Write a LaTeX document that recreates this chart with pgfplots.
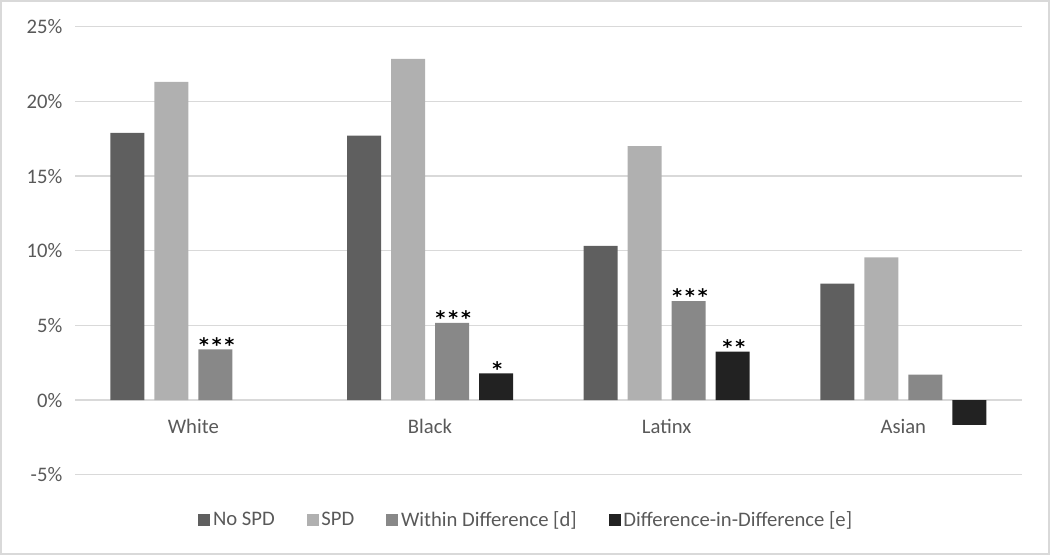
\documentclass[border=0pt]{standalone}
\usepackage{fontspec}
\setmainfont{Carlito}
\newfontfamily\starfont[LetterSpace=16]{DejaVu Sans}
\usepackage{pgfplots}
\pgfplotsset{compat=1.18}
\definecolor{cNo}{HTML}{5F5F5F}
\definecolor{cSPD}{HTML}{B0B0B0}
\definecolor{cWD}{HTML}{888888}
\definecolor{cDiD}{HTML}{222222}
\definecolor{gridc}{HTML}{D9D9D9}
\definecolor{txt}{HTML}{595959}
\begin{document}
\begin{tikzpicture}
\useasboundingbox (0,0) rectangle (787.5pt,416.25pt);
\draw[gridc, line width=1.2pt] (0.6pt,0.6pt) rectangle (786.9pt,415.65pt);
\begin{axis}[
  at={(56.25pt,60.2pt)}, anchor=south west,
  scale only axis, width=710pt, height=336pt,
  ymin=-5, ymax=25, ytick={-5,0,5,10,15,20,25},
  xmin=-0.5, xmax=3.5, xtick={0,1,2,3}, xticklabels={White,Black,Latinx,Asian},
  axis x line*=middle, axis y line*=left,
  y axis line style={draw=none}, x axis line style={gridc, line width=1pt},
  ymajorgrids, grid style={gridc, line width=1pt},
  major tick length=0pt,
  tick label style={font=\fontsize{15.5}{18}\selectfont, text=txt},
  xticklabel style={yshift=-11pt},
  yticklabel style={xshift=-6pt},
  /pgf/number format/assume math mode=true,
  yticklabel={\pgfmathprintnumber{\tick}\%},
  ybar=7.5pt, bar width=25.5pt,
  clip=false,
  every node near coord/.append style={font=\starfont\bfseries\fontsize{14}{14}\selectfont, text=black, inner sep=0pt, yshift=-1.5pt, xshift=1pt},
  legend style={at={(0.477,-0.101)}, anchor=center, draw=none, fill=none,
    legend columns=4, font=\fontsize{15.5}{18}\selectfont, text=txt,
    /tikz/every even column/.append style={column sep=22pt}},
  legend image code/.code={\fill[#1] (0pt,-4.5pt) rectangle (9pt,4.5pt);},
]
\addplot[fill=cNo, draw=none] coordinates {(0,17.9) (1,17.7) (2,10.33) (3,7.8)};
\addplot[fill=cSPD, draw=none] coordinates {(0,21.3) (1,22.85) (2,17.0) (3,9.55)};
\addplot[fill=cWD, draw=none, nodes near coords, point meta=explicit symbolic]
  coordinates {(0,3.39)[***] (1,5.17)[***] (2,6.63)[***] (3,1.71)[]};
\addplot[fill=cDiD, draw=none, nodes near coords, point meta=explicit symbolic]
  coordinates {(1,1.78)[*] (2,3.25)[**] (3,-1.66)[]};
\legend{No SPD, SPD, Within Difference [d], Difference-in-Difference [e]}
\end{axis}
\end{tikzpicture}
\end{document}
